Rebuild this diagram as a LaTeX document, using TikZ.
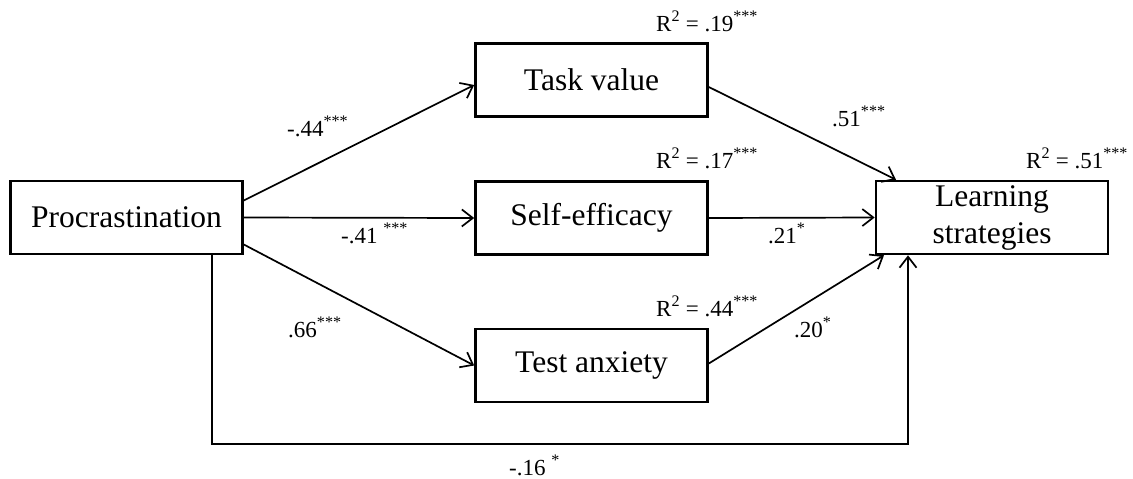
\documentclass[tikz,border=0pt]{standalone}
\usepackage{fontspec}
\setmainfont{Liberation Serif}
\usetikzlibrary{arrows.meta}
\begin{document}
\begin{tikzpicture}[x=1pt,y=-1pt,
  varbox/.style={draw,line width=2.6pt,minimum width=232pt,minimum height=73pt,inner sep=0pt,align=center,font=\fontsize{31.5}{37}\selectfont},
  path/.style={line width=1.7pt,-{Straight Barb[length=11pt,width=17pt,line width=1.7pt]}},
  coef/.style={anchor=base west,inner sep=0pt,font=\fontsize{23}{27}\selectfont}]
\useasboundingbox (0,0) rectangle (1133,479);
\node[varbox] (proc) at (126.5,217.5) {Procrastination};
\node[varbox] (task) at (591.5,80) {Task value};
\node[varbox] (self) at (591.5,218) {Self-efficacy};
\node[varbox] (test) at (591.5,365.5) {Test anxiety};
\node[varbox] (learn) at (992,217.5) {Learning\\strategies};
\coordinate (bot) at (560,444);
\draw[path] ([yshift=17pt]proc.east) -- ([yshift=-5pt]task.west);
\draw[path] (proc.east) -- (self.west);
\draw[path] ([yshift=-27pt]proc.east) -- (test.west);
\draw[path] ([yshift=-7pt]task.east) -- ([xshift=-96pt]learn.north);
\draw[path] (self.east) -- (learn.west);
\draw[path] ([yshift=2pt]test.east) -- ([xshift=-108pt]learn.south);
\draw[path] ([xshift=85.5pt]proc.south) |- (bot) -| ([xshift=-84pt]learn.south);
\node[coef] (c1) at (287,136) {-.44\textsuperscript{***}};
\node[coef] (c2) at (341,243) {-.41 \textsuperscript{***}};
\node[coef] (c3) at (288,337) {.66\textsuperscript{***}};
\node[coef] (c4) at (509,475) {-.16 \textsuperscript{*}};
\node[coef] (r1) at (656,31) {R\textsuperscript{2} = .19\textsuperscript{***}};
\node[coef] (c5) at (832,126) {.51\textsuperscript{***}};
\node[coef] (r2) at (656,168) {R\textsuperscript{2} = .17\textsuperscript{***}};
\node[coef] (r4) at (1026,168) {R\textsuperscript{2} = .51\textsuperscript{***}};
\node[coef] (c6) at (768,243) {.21\textsuperscript{*}};
\node[coef] (r3) at (656,316) {R\textsuperscript{2} = .44\textsuperscript{***}};
\node[coef] (c7) at (794,337) {.20\textsuperscript{*}};
\end{tikzpicture}
\end{document}
